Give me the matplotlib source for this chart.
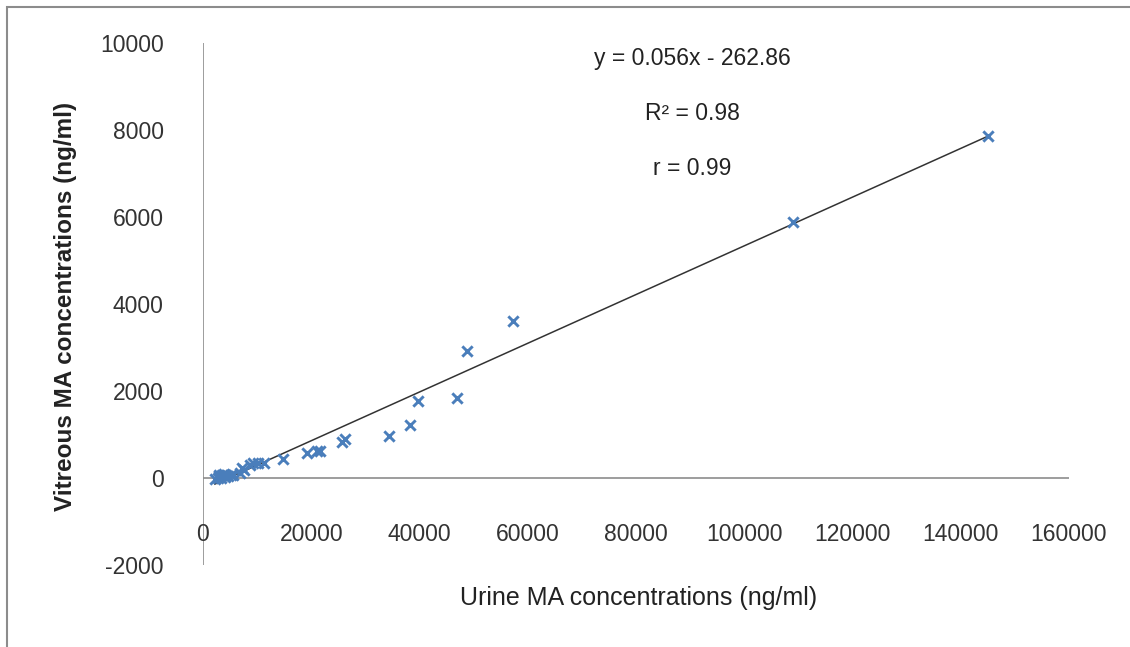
import matplotlib.pyplot as plt
import numpy as np
from matplotlib.patches import Rectangle

plt.rcParams['font.family'] = ['Liberation Sans', 'DejaVu Sans']

# urine vs vitreous MA concentrations (ng/ml)
urine = [145000, 109000, 57300, 48800, 47000, 39800, 38200, 34400,
         26200, 25600, 21600, 21000, 19200, 14800, 11300, 10200,
         9300, 8700, 7500, 6900, 7200,
         2200, 2700, 3000, 3300, 3600, 4000, 4300, 4700, 5100, 5500, 3800, 2900]
vitreous = [7870, 5880, 3600, 2920, 1850, 1760, 1220, 970,
            890, 830, 630, 610, 570, 440, 340, 350,
            340, 300, 190, 120, 230,
            -20, 10, 40, 0, 60, 20, 70, 40, 60, 80, 90, 60]

slope = 0.056
intercept = -262.86
eq_lines = ["y = 0.056x - 262.86", "R\u00b2 = 0.98", "r = 0.99"]

x_ticks = [0, 20000, 40000, 60000, 80000, 100000, 120000, 140000, 160000]
y_ticks = [-2000, 0, 2000, 4000, 6000, 8000, 10000]

fig = plt.figure(figsize=(11.3, 6.47), dpi=100)
ax = fig.add_axes([0.1796, 0.1267, 0.7664, 0.8068])

# outer chart frame (only left/top edge visible in the crop)
fig.patches.append(Rectangle((7 / 1130, -0.1), 1.2, 1 - 7 / 647 + 0.1,
                             transform=fig.transFigure, fill=False,
                             edgecolor='#8c8c8c', linewidth=1.5))

ax.set_xlim(0, 160000)
ax.set_ylim(-2000, 10000)

ax.scatter(urine, vitreous, marker='x', s=55, color='#4a7ebb', linewidths=2.1, zorder=3)

xs = np.array([min(urine), max(urine)])
ax.plot(xs, slope * xs + intercept, color='#333333', linewidth=1.1, zorder=2)

# axis lines through the origin
ax.axhline(0, color='#8c8c8c', linewidth=1.2, zorder=1)
ax.axvline(0, color='#8c8c8c', linewidth=1.2, zorder=1)

for s in ['top', 'right']:
    ax.spines[s].set_visible(False)
ax.spines['bottom'].set_position(('axes', 0.086))
ax.spines['left'].set_position(('axes', -0.042))
ax.spines['bottom'].set_visible(False)
ax.spines['left'].set_visible(False)

ax.set_xticks(x_ticks)
ax.set_xticklabels([str(t) for t in x_ticks])
ax.set_yticks(y_ticks)
ax.set_yticklabels([str(t) for t in y_ticks])
ax.tick_params(axis='both', length=0, labelsize=16.5, colors='#333333', pad=2)

ax.set_xlabel("Urine MA concentrations (ng/ml)", fontsize=18, color='#222222')
ax.set_ylabel("Vitreous MA concentrations (ng/ml)", fontsize=17.5, fontweight='bold',
              color='#222222')
ax.xaxis.set_label_coords(0.503, -0.04)
ax.yaxis.set_label_coords(-0.1455, 0.495)

for i, t in enumerate(eq_lines):
    ax.text(0.565, 0.97 - i * 0.105, t, transform=ax.transAxes, ha='center', va='center',
            fontsize=16.5, color='#222222')

ax.set_facecolor('none')
fig.savefig('out.png', dpi=100)
